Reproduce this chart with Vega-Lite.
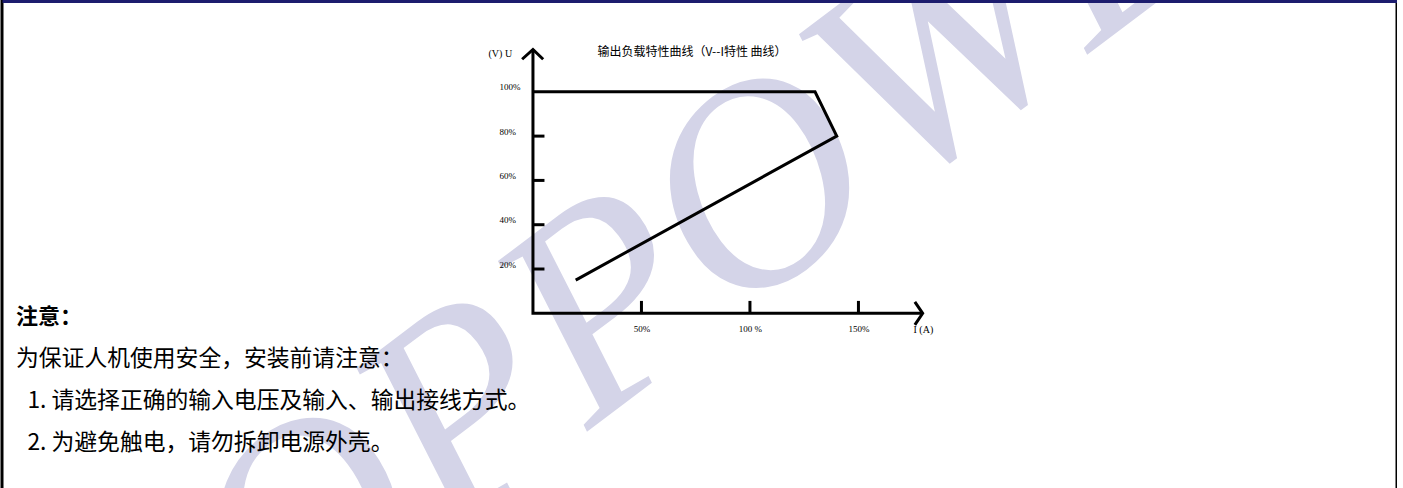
{
  "$schema": "https://vega.github.io/schema/vega-lite/v6.json",
  "width": 1395,
  "height": 495,
  "autosize": {"type": "none"},
  "padding": {"left": 2, "top": 1, "right": 0, "bottom": 0},
  "background": "white",
  "view": {"stroke": "#000", "strokeWidth": 3},
  "title": {
    "text": "注意：",
    "subtitle": ["为保证人机使用安全，安装前请注意：", "\u200b\u20021. 请选择正确的输入电压及输入、输出接线方式。", "\u200b\u20022. 为避免触电，请勿拆卸电源外壳。"],
    "orient": "top",
    "anchor": "start",
    "frame": "group",
    "dx": 14,
    "dy": 459,
    "font": "Noto Sans CJK SC",
    "fontSize": 22,
    "fontWeight": "bold",
    "color": "#000",
    "subtitleFont": "Noto Sans CJK SC",
    "subtitleFontSize": 22.8,
    "subtitleFontWeight": "normal",
    "subtitleColor": "#000",
    "subtitleLineHeight": 42,
    "subtitlePadding": 19
  },
  "layer": [
    {
      "data": {"values": [{"w": "OPPOWER"}]},
      "mark": {"type": "text", "clip": true, "font": "Liberation Serif", "fontStyle": "italic", "fontSize": 290, "angle": -37, "align": "center", "baseline": "middle", "color": "#d4d4e8"},
      "encoding": {
        "x": {"datum": 111.0, "axis": null},
        "y": {"datum": 59.3, "axis": null},
        "text": {"field": "w"}
      }
    },
    {
      "data": {"values": [
        {"step": 0, "i": 0, "u": 100},
        {"step": 1, "i": 130, "u": 100},
        {"step": 2, "i": 140, "u": 80},
        {"step": 3, "i": 19.7, "u": 15}
      ]},
      "mark": {"type": "line", "color": "#000", "strokeWidth": 3, "strokeJoin": "miter", "strokeCap": "butt"},
      "encoding": {
        "x": {
          "field": "i", "type": "quantitative",
          "scale": {"domain": [-244.7, 398.2], "nice": false, "zero": false},
          "axis": {
            "orient": "bottom", "offset": -182.7, "zindex": 2, "domain": false, "ticks": false, "tickSize": 0, "grid": false,
            "values": [50, 100, 150],
            "labelExpr": "datum.value == 100 ? '100 %' : datum.value + '%'",
            "labelPadding": 11, "labelFont": "Liberation Serif", "labelFontSize": 9, "labelColor": "#000",
            "labelOverlap": false, "labelBound": false, "labelFlush": false,
            "title": "I (A)", "titleX": 911, "titleY": 15.7, "titleAlign": "left", "titleBaseline": "middle", "titleAngle": 0,
            "titleFont": "Liberation Serif", "titleFontSize": 10, "titleFontWeight": "normal", "titleColor": "#000"
          }
        },
        "y": {
          "field": "u", "type": "quantitative",
          "scale": {"domain": [-82.48, 141.0], "nice": false, "zero": false},
          "axis": {
            "orient": "left", "offset": -531, "zindex": 2, "domain": false, "ticks": false, "tickSize": 0, "grid": false,
            "values": [20, 40, 60, 80, 100],
            "labelExpr": "datum.value + '%'",
            "labelAlign": "left", "labelBaseline": "middle", "labelPadding": 34, "labelOffset": -5,
            "labelFont": "Liberation Serif", "labelFontSize": 9, "labelColor": "#000",
            "labelOverlap": false, "labelBound": false, "labelFlush": false,
            "title": "(V)  U", "titleX": -45, "titleY": 52.5, "titleAlign": "left", "titleBaseline": "middle", "titleAngle": 0,
            "titleFont": "Liberation Serif", "titleFontSize": 10, "titleFontWeight": "normal", "titleColor": "#000"
          }
        },
        "order": {"field": "step", "type": "quantitative"}
      }
    },
    {
      "data": {"values": [
        {"s": "axes", "o": 0, "x": 0, "y": 119.1},
        {"s": "axes", "o": 1, "x": 0, "y": 0},
        {"s": "axes", "o": 2, "x": 179.6, "y": 0},
        {"s": "uarrow", "o": 0, "x": -5.0, "y": 114.7},
        {"s": "uarrow", "o": 1, "x": 0, "y": 119.1},
        {"s": "uarrow", "o": 2, "x": 4.7, "y": 114.7},
        {"s": "iarrow", "o": 0, "x": 176, "y": 5.2},
        {"s": "iarrow", "o": 1, "x": 179.6, "y": 0},
        {"s": "iarrow", "o": 2, "x": 176, "y": -5.2}
      ]},
      "mark": {"type": "line", "color": "#000", "strokeWidth": 3, "strokeJoin": "miter", "strokeCap": "butt"},
      "encoding": {
        "x": {
          "field": "x", "type": "quantitative",
          "axis": {
            "orient": "top", "zindex": 2, "domain": true, "domainColor": "#1c1c6e", "domainWidth": 3,
            "labels": false, "ticks": false, "grid": false,
            "title": "输出负载特性曲线（V--I特性 曲线）",
            "titleX": 689.5, "titleY": 50.7, "titleAlign": "center", "titleBaseline": "middle", "titleAngle": 0,
            "titleFont": "Noto Sans CJK SC", "titleFontSize": 12, "titleFontWeight": "normal", "titleColor": "#000"
          }
        },
        "y": {"field": "y", "type": "quantitative", "axis": null},
        "detail": {"field": "s"},
        "order": {"field": "o", "type": "quantitative"}
      }
    },
    {
      "data": {"values": [{"v": 20}, {"v": 40}, {"v": 60}, {"v": 80}]},
      "mark": {"type": "rule", "color": "#000", "strokeWidth": 3},
      "encoding": {
        "y": {"field": "v", "type": "quantitative", "axis": null},
        "x": {"datum": 0, "axis": null},
        "x2": {"datum": 5.3}
      }
    },
    {
      "data": {"values": [{"v": 50}, {"v": 100}, {"v": 150}]},
      "mark": {"type": "rule", "color": "#000", "strokeWidth": 3},
      "encoding": {
        "x": {"field": "v", "type": "quantitative", "axis": null},
        "y": {"datum": 0, "axis": null},
        "y2": {"datum": 5.6}
      }
    }
  ],
  "resolve": {"axis": {"x": "independent", "y": "independent"}}
}
